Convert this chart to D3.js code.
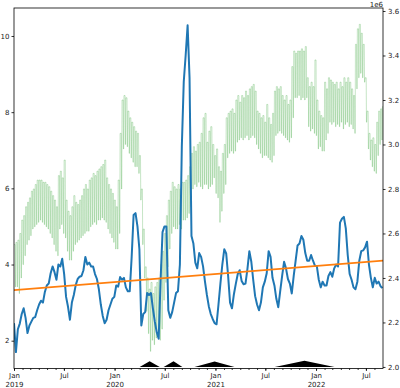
<!DOCTYPE html>
<html><head><meta charset="utf-8">
<script src="https://cdn.jsdelivr.net/npm/d3@7"></script>
<style>body{margin:0;background:#fff}svg{display:block}</style>
</head><body><svg id="c" width="400" height="388"></svg>
<script>
// ---------- data ----------
const startDate = "2019-01-01";
const endDate = "2022-09-01";
const weekCount = 192;

// left axis series (weekly readings)
const blueValues = [
2.46,1.7,2.3,2.45,2.7,2.85,2.6,2.2,2.4,2.5,
2.6,2.62,2.8,2.95,3.05,3.0,3.28,3.45,3.5,3.77,
3.95,3.8,3.6,4.0,3.95,4.15,3.75,3.15,2.89,2.55,
3.0,3.2,3.46,3.62,3.68,3.7,3.85,4.2,4.0,4.05,
3.95,3.95,3.75,3.62,3.35,2.95,2.65,2.46,2.55,2.8,
2.95,3.1,3.15,3.45,3.42,3.67,3.6,3.65,3.4,3.3,
3.3,4.2,5.3,5.35,5.0,4.4,2.4,2.7,2.75,3.25,
3.2,3.25,2.85,2.5,2.22,2.05,3.6,4.85,5.0,5.0,
2.8,2.6,2.75,3.0,3.25,3.3,4.0,7.1,8.8,9.5,
10.28,8.9,4.75,4.55,4.05,3.9,4.3,4.2,3.95,3.55,
3.2,2.9,2.7,2.57,2.46,2.43,2.95,3.5,4.0,4.4,
4.29,3.7,3.0,2.85,3.22,3.5,3.75,3.85,3.57,3.48,
3.5,3.88,4.35,4.08,3.6,3.17,2.95,2.8,3.0,3.4,
3.55,3.77,4.35,4.2,3.65,3.45,3.1,2.88,3.3,3.7,
4.07,3.9,3.62,3.5,3.24,3.7,4.1,4.5,4.55,4.75,
4.65,4.3,4.1,4.1,4.25,4.1,3.97,3.95,3.6,3.4,
3.55,3.45,3.45,3.7,3.8,3.68,3.9,4.0,3.95,5.1,
5.2,5.25,4.95,4.25,3.75,3.6,3.4,3.35,3.55,4.1,
4.35,4.37,4.45,4.6,4.0,3.65,3.4,3.65,3.5,3.55,
3.43,3.38];

// trend line (left axis) at first and last date
const trendValues = [3.33, 4.10];

// right axis series (x 1e6): weekday highs and weekend lows per week
const greenHigh = [
2.55,2.56,2.57,2.60,2.66,2.68,2.72,2.74,2.76,2.79,
2.80,2.82,2.84,2.84,2.84,2.83,2.83,2.82,2.81,2.79,
2.77,2.75,2.72,2.86,2.88,2.85,2.93,2.75,2.70,2.68,
2.72,2.77,2.74,2.73,2.75,2.77,2.80,2.82,2.80,2.84,
2.85,2.87,2.86,2.88,2.89,2.90,2.91,2.93,2.85,2.82,
2.80,2.78,2.75,2.72,2.84,3.05,3.20,3.22,3.21,3.15,
3.12,3.10,3.08,3.06,3.05,2.95,2.80,2.62,2.45,2.40,
2.35,2.38,2.33,2.36,2.38,2.40,2.46,2.52,2.60,2.68,
2.75,2.79,2.83,2.81,2.80,2.82,2.80,2.83,2.83,2.84,
2.86,2.90,2.96,2.99,2.97,3.00,3.01,3.05,3.12,3.14,
3.01,3.06,3.08,3.00,2.95,2.98,2.90,2.88,2.96,3.00,
3.12,3.14,3.15,3.16,3.14,3.20,3.22,3.19,3.22,3.21,
3.24,3.22,3.25,3.26,3.27,3.24,3.15,3.14,3.12,3.13,
3.10,3.18,3.12,3.09,3.14,3.24,3.26,3.25,3.26,3.22,
3.20,3.22,3.18,3.20,3.35,3.42,3.41,3.42,3.42,3.43,
3.42,3.44,3.30,3.26,3.28,3.26,3.38,3.20,3.15,3.13,
3.12,3.28,3.25,3.30,3.29,3.28,3.27,3.28,3.25,3.28,
3.26,3.30,3.28,3.30,3.28,3.25,3.22,3.45,3.52,3.54,
3.50,3.45,3.30,3.15,3.05,3.02,3.03,3.00,3.10,3.15,
3.16,3.17];
const greenLow = [
2.36,2.36,2.33,2.40,2.46,2.50,2.55,2.57,2.59,2.62,
2.63,2.64,2.65,2.66,2.65,2.64,2.63,2.62,2.60,2.58,
2.55,2.52,2.50,2.62,2.64,2.60,2.58,2.52,2.48,2.48,
2.52,2.55,2.56,2.57,2.58,2.59,2.60,2.61,2.61,2.63,
2.64,2.65,2.64,2.66,2.66,2.67,2.66,2.65,2.62,2.60,
2.58,2.56,2.53,2.53,2.60,2.80,2.98,3.00,2.99,2.96,
2.94,2.92,2.90,2.90,2.87,2.75,2.55,2.40,2.25,2.15,
2.07,2.12,2.10,2.13,2.14,2.12,2.17,2.30,2.38,2.45,
2.53,2.60,2.63,2.62,2.62,2.64,2.62,2.66,2.66,2.67,
2.69,2.72,2.80,2.82,2.81,2.83,2.81,2.80,2.82,2.82,
2.80,2.81,2.82,2.85,2.78,2.76,2.65,2.70,2.78,2.82,
2.94,2.96,2.97,2.96,2.97,3.01,3.02,3.03,3.02,3.03,
3.04,3.02,3.03,3.04,3.03,3.00,2.98,2.96,2.94,2.95,
2.95,2.94,2.93,2.92,2.95,3.04,3.05,3.06,3.05,3.04,
3.03,3.02,3.01,3.03,3.12,3.21,3.21,3.22,3.20,3.21,
3.20,3.21,3.08,3.06,3.07,3.05,3.04,2.98,2.99,2.97,
2.97,3.02,3.05,3.10,3.09,3.10,3.08,3.09,3.08,3.10,
3.07,3.09,3.10,3.08,3.09,3.07,3.05,3.25,3.30,3.32,
3.30,3.28,3.10,2.98,2.93,2.90,2.88,2.87,2.95,3.00,
3.02,3.03];
const rightScaleFactor = 1e6;

// black triangular periods at the bottom (right axis, x 1e6)
const eventStart  = ["2020-04-01","2020-06-27","2020-10-17","2021-08-04"];
const eventPeak   = ["2020-05-07","2020-08-02","2020-12-29","2021-11-20"];
const eventEnd    = ["2020-06-13","2020-09-03","2021-03-11","2022-03-09"];
const eventBase   = 2.0;
const eventHeight = [0.026, 0.026, 0.025, 0.028];

// ticks
const leftTicks = [2, 4, 6, 8, 10];
const rightTicks = [2.0, 2.2, 2.4, 2.6, 2.8, 3.0, 3.2, 3.4, 3.6];
const xMajorTicks = ["2019-01-01","2019-07-01","2020-01-01","2020-07-01","2021-01-01","2021-07-01","2022-01-01","2022-07-01"];
const xMajorLabels = [["Jan","2019"],["Jul"],["Jan","2020"],["Jul"],["Jan","2021"],["Jul"],["Jan","2022"],["Jul"]];

// ---------- drawing ----------
const L = 14, R = 383, T = 8, B = 368.5;
const FONT = "'DejaVu Sans', sans-serif";
const svg = d3.select("#c");
const parse = d3.utcParse("%Y-%m-%d");
const t0 = parse(startDate);
const weeks = d3.range(weekCount).map(k => d3.utcDay.offset(t0, 7 * k));

const x = d3.scaleUtc().domain([t0, parse(endDate)]).range([L, R]);
const yL = d3.scaleLinear().domain([1.27, 10.735]).range([B, T]);
const yR = d3.scaleLinear().domain([1.993, 3.6135]).range([B, T]);

svg.append("defs").append("clipPath").attr("id", "clip")
  .append("rect").attr("x", L).attr("y", T).attr("width", R - L).attr("height", B - T);
const plot = svg.append("g").attr("clip-path", "url(#clip)");

// green (weekday highs / weekend lows)
const greenPts = [];
weeks.forEach((d, k) => {
  greenPts.push([d3.utcDay.offset(d, 0), greenHigh[k]]);
  greenPts.push([d3.utcDay.offset(d, 4), greenHigh[k]]);
  greenPts.push([d3.utcDay.offset(d, 5), greenLow[k]]);
  greenPts.push([d3.utcDay.offset(d, 6), greenLow[k]]);
});
plot.append("path")
  .attr("d", d3.line().x(p => x(p[0])).y(p => yR(p[1])).curve(d3.curveLinear)(greenPts))
  .attr("fill", "none").attr("stroke", "#2ca02c").attr("stroke-opacity", 0.3).attr("stroke-width", 0.9);

// triangles
eventStart.forEach((s, i) => {
  const pts = [[parse(s), eventBase], [parse(eventPeak[i]), eventBase + eventHeight[i]], [parse(eventEnd[i]), eventBase]];
  plot.append("path")
    .attr("d", d3.line().x(p => x(p[0])).y(p => yR(p[1]))(pts) + "Z")
    .attr("fill", "#000").attr("stroke", "none");
});

// blue
plot.append("path")
  .attr("d", d3.line().x((v, k) => x(weeks[k])).y(v => yL(v))(blueValues))
  .attr("fill", "none").attr("stroke", "#1f77b4").attr("stroke-width", 2).attr("stroke-linejoin", "round");

// trend
plot.append("path")
  .attr("d", d3.line().x(p => x(p[0])).y(p => yL(p[1]))([[t0, trendValues[0]], [parse(endDate), trendValues[1]]]))
  .attr("fill", "none").attr("stroke", "#ff7f0e").attr("stroke-width", 1.8);

// axes
function styleAxis(g) {
  g.select(".domain").remove();
  g.selectAll(".tick line").attr("stroke", "#000").attr("stroke-width", 0.8);
  g.selectAll("text").attr("font-family", FONT).attr("font-size", 7).attr("fill", "#222");
}
svg.append("g").attr("transform", `translate(${L},0)`)
  .call(d3.axisLeft(yL).tickValues(leftTicks).tickSize(2.5).tickPadding(2).tickFormat(d3.format("d")))
  .call(styleAxis);
svg.append("g").attr("transform", `translate(${R},0)`)
  .call(d3.axisRight(yR).tickValues(rightTicks).tickSize(2.5).tickPadding(2.5).tickFormat(d3.format(".1f")))
  .call(styleAxis);

// x minor ticks
const minor = d3.utcMonth.range(t0, parse(endDate));
svg.append("g").attr("transform", `translate(0,${B})`)
  .call(d3.axisBottom(x).tickValues(minor).tickSize(1.5).tickFormat(""))
  .call(styleAxis);
// x major ticks
const gx = svg.append("g").attr("transform", `translate(0,${B})`)
  .call(d3.axisBottom(x).tickValues(xMajorTicks.map(parse)).tickSize(2.5).tickFormat(""))
  .call(styleAxis);
gx.selectAll(".tick").each(function (d, i) {
  const t = d3.select(this).append("text")
    .attr("text-anchor", "middle").attr("font-family", FONT).attr("font-size", 7).attr("fill", "#222");
  xMajorLabels[i].forEach((s, j) => {
    t.append("tspan").attr("x", 0).attr("y", 9.5 + j * 8.5).text(s);
  });
});

// offset label
svg.append("text").attr("x", R).attr("y", 6.5).attr("text-anchor", "end")
  .attr("font-family", FONT).attr("font-size", 7).attr("fill", "#222")
  .text("1e" + Math.round(Math.log10(rightScaleFactor)));

// spines
svg.append("rect").attr("x", L).attr("y", T).attr("width", R - L).attr("height", B - T)
  .attr("fill", "none").attr("stroke", "#000").attr("stroke-width", 0.8);
</script></body></html>
